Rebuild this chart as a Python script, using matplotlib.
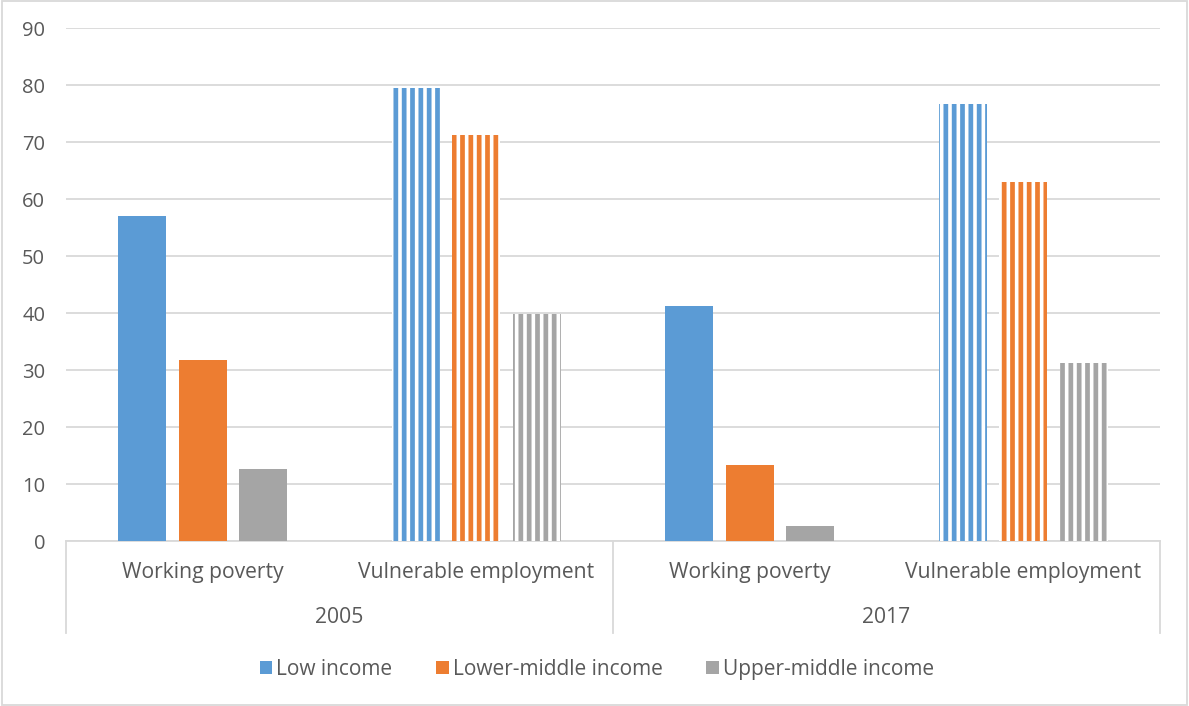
import matplotlib.pyplot as plt
from matplotlib.patches import Rectangle, Patch
import numpy as np

# ~~~ data ~~~
years = ['2005', '2017']
indicators = ['Working poverty', 'Vulnerable employment']
series = ['Low income', 'Lower-middle income', 'Upper-middle income']
low_income = [57.0, 79.5, 41.2, 76.6]
lower_middle = [31.7, 71.2, 13.3, 62.9]
upper_middle = [12.6, 39.8, 2.7, 31.2]

colors = ['#5b9bd5', '#ed7d31', '#a5a5a5']
txt = '#595959'
grid = '#d9d9d9'

plt.rcParams['font.family'] = ['Open Sans', 'DejaVu Sans']
plt.rcParams['hatch.linewidth'] = 3.4

fig = plt.figure(figsize=(11.89, 7.06), dpi=100)
ax = fig.add_axes([0.0555, 0.2337, 0.9201, 0.7266])

# categories: 4 slots (year x indicator)
x = np.arange(len(years) * len(indicators))
w = 0.176
step = 0.221
vals = [low_income, lower_middle, upper_middle]
for k, (v, c) in enumerate(zip(vals, colors)):
    for i in x:
        pos = i + (k - 1) * step
        if i % 2 == 0:
            ax.bar(pos, v[i], width=w, color=c, zorder=3)
        else:
            # vulnerable employment bars drawn with vertical stripes
            ax.bar(pos, v[i], width=w, facecolor='white', edgecolor=c,
                   linewidth=0, hatch='||', zorder=3)

ax.set_xlim(-0.5, len(x) - 0.5)
ax.set_ylim(0, 90)
ax.set_yticks(np.arange(0, 91, 10))
ax.yaxis.grid(True, color=grid, linewidth=1.3, zorder=0)
ax.tick_params(axis='y', length=0, labelsize=14.5, labelcolor=txt, pad=15)
ax.set_xticks([])
for s in ['top', 'right', 'left']:
    ax.spines[s].set_visible(False)
ax.spines['bottom'].set_color(grid)
ax.spines['bottom'].set_linewidth(1.3)

# two-level category axis
tr = ax.get_xaxis_transform()
for i in x:
    ax.text(i, -0.062, indicators[i % 2], transform=tr, ha='center', va='center',
            fontsize=15.2, color=txt)
for j, yr in enumerate(years):
    ax.text(j * 2 + 0.5, -0.150, yr, transform=tr, ha='center', va='center',
            fontsize=15.2, color=txt)
for xs in [-0.5, 1.5, 3.5]:
    ax.plot([xs, xs], [0, -0.179], transform=tr, color=grid, linewidth=1.3,
            clip_on=False)

handles = [Patch(facecolor=c, label=s) for s, c in zip(series, colors)]
fig.legend(handles=handles, loc='center', bbox_to_anchor=(0.502, 0.052), ncol=3,
           frameon=False, fontsize=15, labelcolor=txt, handlelength=0.6,
           handleheight=0.6, handletextpad=0.2, columnspacing=2.1)

fig.patches.append(Rectangle((0.002, 0.002), 0.996, 0.996, transform=fig.transFigure,
                             fill=False, edgecolor=grid, linewidth=1.3))

fig.savefig('out.png', dpi=100)
